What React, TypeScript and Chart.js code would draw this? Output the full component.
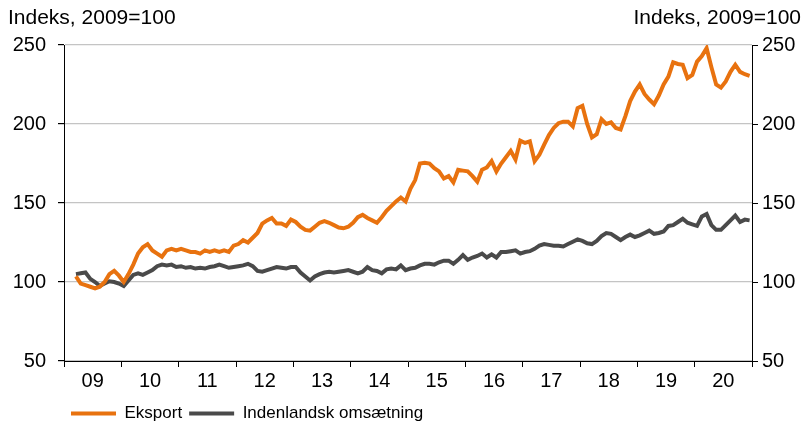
import React, { useEffect, useRef } from 'react';
import { Chart, registerables } from 'chart.js';

Chart.register(...registerables);

// Monthly index values, March 2009 – December 2020 (2009 = 100)
const firstMonthOffset = 2; // March 2009 = month index 2 counted from January 2009

const yearLabels = ['09', '10', '11', '12', '13', '14', '15', '16', '17', '18', '19', '20'];
const yTicks = [50, 100, 150, 200, 250];
const seriesNames = ['Eksport', 'Indenlandsk omsætning'];
const unitTitle = 'Indeks, 2009=100';

const eksport = [
  /* 2009 (Mar–Dec) */ 103.5, 99, 98, 97, 96, 97, 100, 105, 107, 104,
  /* 2010 */ 100, 105, 111, 118, 122, 124, 120, 118, 116, 120, 121, 120,
  /* 2011 */ 121, 120, 119, 119, 118, 120, 119, 120, 119, 120, 119, 123,
  /* 2012 */ 124, 126.5, 125, 128, 131, 137, 139, 140.5, 137, 137, 135.5, 139.5,
  /* 2013 */ 138, 135, 133, 132.5, 135, 137.5, 138.5, 137.5, 136, 134.5, 134, 135,
  /* 2014 */ 137.5, 141, 142.5, 140.5, 139, 137.5, 141, 145, 148, 151, 153.5, 151,
  /* 2015 */ 159, 164.5, 175, 175.5, 175, 172, 170, 165.5, 167, 163, 171, 170.5,
  /* 2016 */ 170, 167, 163.5, 171, 172.5, 176.5, 170, 175, 179, 183, 177.5, 189.5,
  /* 2017 */ 188, 189, 176.5, 180.5, 187, 193, 197.5, 200.5, 201.5, 201.5, 198.5, 210,
  /* 2018 */ 211.5, 200, 191.5, 193.5, 203, 200, 201, 197.5, 196.5, 205, 214.5, 220.5,
  /* 2019 */ 225, 219, 215.5, 212.5, 218, 225, 230, 239, 238, 237.5, 229, 231,
  /* 2020 */ 239.5, 243, 248, 236, 225, 223, 227, 233, 237.5, 233, 231.5, 230.5,
];

const indenlandsk = [
  /* 2009 (Mar–Dec) */ 105, 105.5, 106, 102, 100, 97.5, 99, 100.5, 100, 99,
  /* 2010 */ 97.5, 101, 104.5, 105.5, 104.5, 106, 107.5, 110, 111, 110.5, 111, 109.5,
  /* 2011 */ 110, 109, 109.5, 108.5, 109, 108.5, 109.5, 110, 111, 110, 109, 109.5,
  /* 2012 */ 110, 110.5, 111.5, 110, 107, 106.5, 107.5, 108.5, 109.5, 109, 108.5, 109.5,
  /* 2013 */ 109.5, 106, 103.5, 101, 103.5, 105, 106, 106.5, 106, 106.5, 107, 107.5,
  /* 2014 */ 106.5, 105.5, 106.5, 109.5, 107.5, 107, 105.5, 108, 108.5, 108, 110.5, 107.5,
  /* 2015 */ 108.5, 109, 110.5, 111.5, 111.5, 111, 112.5, 113.5, 113.5, 111.5, 114, 117,
  /* 2016 */ 114, 115.5, 116.5, 118, 115.5, 117.5, 115.5, 119, 119, 119.5, 120, 118,
  /* 2017 */ 119, 119.5, 121, 123, 124, 123.5, 123, 123, 122.5, 124, 125.5, 127,
  /* 2018 */ 126, 124.5, 124, 126, 129, 131, 130.5, 128.5, 126.5, 128.5, 130, 128.5,
  /* 2019 */ 129.5, 131, 132.5, 130.5, 131, 132, 135.5, 136, 138, 140, 137.5, 136.5,
  /* 2020 */ 135.5, 141.5, 143, 136, 133, 133, 136, 139, 142, 138, 139.5, 139,
];

const ORANGE = '#E8720F';
const GREY = '#4A4A4A';
const FONT = 'Arial, "Liberation Sans", sans-serif';

const toPoints = (values: number[]) =>
  values.map((v, i) => ({ x: i + firstMonthOffset + 0.5, y: v }));

const titlesPlugin = {
  id: 'unitTitles',
  afterDraw(chart: any) {
    const { ctx } = chart;
    ctx.save();
    ctx.font = `21px ${FONT}`;
    ctx.fillStyle = '#000';
    ctx.textBaseline = 'middle';
    ctx.textAlign = 'left';
    ctx.fillText(unitTitle, 8, 18);
    ctx.textAlign = 'right';
    ctx.fillText(unitTitle, 801, 18);
    ctx.restore();
  },
};

export default function App() {
  const canvasRef = useRef<HTMLCanvasElement | null>(null);

  useEffect(() => {
    if (!canvasRef.current) return;
    const chart = new Chart(canvasRef.current, {
      type: 'line',
      data: {
        datasets: [
          {
            label: seriesNames[0],
            data: toPoints(eksport),
            borderColor: ORANGE,
            backgroundColor: ORANGE,
            borderWidth: 4,
            pointRadius: 0,
            tension: 0,
            yAxisID: 'y',
          },
          {
            label: seriesNames[1],
            data: toPoints(indenlandsk),
            borderColor: GREY,
            backgroundColor: GREY,
            borderWidth: 4,
            pointRadius: 0,
            tension: 0,
            yAxisID: 'y',
          },
        ],
      },
      options: {
        animation: false,
        responsive: true,
        maintainAspectRatio: false,
        layout: { padding: { top: 45, left: 0, right: 0, bottom: -9 } },
        plugins: {
          tooltip: { enabled: false },
          title: { display: false },
          legend: {
            position: 'bottom',
            align: 'start',
            fullSize: false,
            labels: {
              boxWidth: 45,
              boxHeight: 4,
              padding: 7,
              color: '#000',
              font: { size: 17, family: FONT },
              generateLabels: (c: any) =>
                c.data.datasets.map((ds: any, i: number) => ({
                  text: ds.label,
                  fillStyle: ds.borderColor,
                  strokeStyle: ds.borderColor,
                  lineWidth: 0,
                  hidden: false,
                  datasetIndex: i,
                })),
            },
          },
        },
        scales: {
          x: {
            type: 'linear',
            min: 0,
            max: 144,
            afterFit: (s: any) => {
              s.height = 37;
            },
            ticks: {
              stepSize: 6,
              autoSkip: false,
              maxRotation: 0,
              color: '#000',
              padding: 2,
              font: { size: 20, family: FONT },
              callback: (v: any) => (v % 12 === 6 ? yearLabels[(v - 6) / 12] : ''),
            },
            grid: {
              drawOnChartArea: false,
              tickLength: 6,
              tickColor: (ctx: any) =>
                ctx.tick && ctx.tick.value % 12 === 0 ? '#000' : 'rgba(0,0,0,0)',
            },
            border: { color: '#000', width: 1 },
          },
          y: {
            position: 'left',
            min: 50,
            max: 250,
            afterFit: (s: any) => {
              s.width = 64;
            },
            afterBuildTicks: (s: any) => {
              s.ticks = yTicks.map((v) => ({ value: v }));
            },
            ticks: {
              color: '#000',
              padding: 12,
              font: { size: 20, family: FONT },
            },
            grid: {
              color: '#C4C4C4',
              tickColor: '#000',
              tickLength: 6,
              lineWidth: 1.2,
            },
            border: { color: '#000', width: 1 },
          },
          y2: {
            position: 'right',
            min: 50,
            max: 250,
            afterFit: (s: any) => {
              s.width = 54;
            },
            afterBuildTicks: (s: any) => {
              s.ticks = yTicks.map((v) => ({ value: v }));
            },
            ticks: {
              color: '#000',
              padding: 4,
              font: { size: 20, family: FONT },
            },
            grid: {
              drawOnChartArea: false,
              tickColor: '#000',
              tickLength: 6,
            },
            border: { color: '#000', width: 1 },
          },
        },
      },
      plugins: [titlesPlugin],
    });
    return () => chart.destroy();
  }, []);

  return (
    <div style={{ position: 'absolute', left: 0, top: 0, width: 806, height: 423 }}>
      <canvas ref={canvasRef} />
    </div>
  );
}
